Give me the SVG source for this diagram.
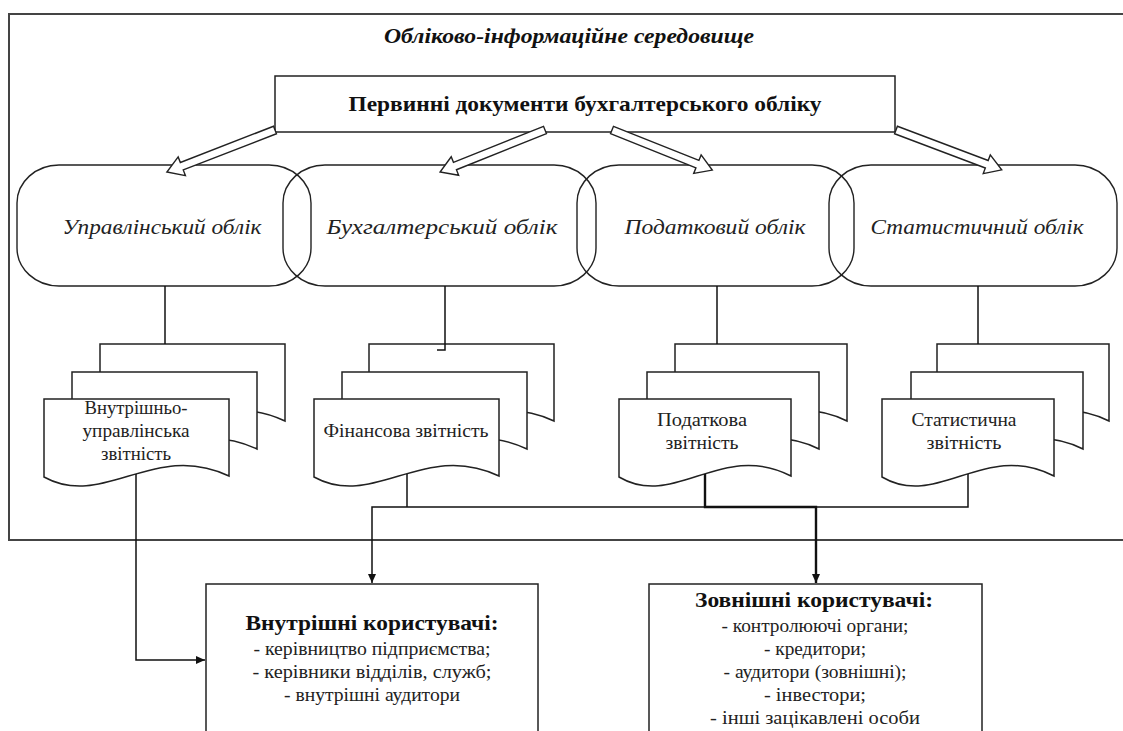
<svg xmlns="http://www.w3.org/2000/svg" width="1123" height="731" viewBox="0 0 1123 731">
<style>
  text { font-family: "Liberation Serif", "Times New Roman", serif; fill: #111; }
  .title { font-size: 20px; font-weight: bold; font-style: italic; }
  .hdr { font-size: 21px; font-weight: bold; }
  .ov { font-size: 21px; font-style: italic; fill: #222; }
  .doc { font-size: 18px; fill: #222; }
  .bt { font-size: 22px; font-weight: bold; }
  .it { font-size: 18px; fill: #222; }
  .shape { fill: #fff; stroke: #222; stroke-width: 1.5; }
  .oval { fill: none; stroke: #222; stroke-width: 1.4; }
  .barrow { fill: #fff; stroke: #222; stroke-width: 1.4; stroke-linejoin: miter; }
  .con { fill: none; stroke: #111; stroke-width: 1.5; }
  .bold { stroke-width: 2.4; }
</style>
<defs>
  <path id="docW" d="M0,0 H185 V77 C110,41 60,111 0,78 Z"/>
  <path id="docN" d="M0,0 H172 V77 C102,41 56,111 0,78 Z"/>
  <marker id="ah" markerWidth="10" markerHeight="10" refX="9" refY="5" orient="auto" markerUnits="userSpaceOnUse">
    <path d="M0,1 L9,5 L0,9 Z" fill="#111"/>
  </marker>
</defs>

<!-- outer environment frame -->
<g id="frame">
  <path d="M1125,14 H9 V540 H1125" fill="none" stroke="#444" stroke-width="2"/>
  <text class="title" x="569" y="43" text-anchor="middle" textLength="370" lengthAdjust="spacingAndGlyphs">Обліково-інформаційне середовище</text>
</g>

<g id="primary">
  <rect class="shape" x="275" y="76" width="620" height="56"/>
  <text class="hdr" x="585" y="111" text-anchor="middle" textLength="473" lengthAdjust="spacingAndGlyphs">Первинні документи бухгалтерського обліку</text>
</g>

<g id="ovals">
  <g id="mgmt">
    <rect class="oval" x="17" y="165" width="294" height="121" rx="42" ry="38"/>
    <text class="ov" x="162" y="234" text-anchor="middle" textLength="199" lengthAdjust="spacingAndGlyphs">Управлінський облік</text>
  </g>
  <g id="acct">
    <rect class="oval" x="283" y="165" width="313" height="121" rx="42" ry="38"/>
    <text class="ov" x="442" y="234" text-anchor="middle" style="font-size:22px" textLength="231" lengthAdjust="spacingAndGlyphs">Бухгалтерський облік</text>
  </g>
  <g id="tax">
    <rect class="oval" x="577" y="165" width="277" height="121" rx="42" ry="38"/>
    <text class="ov" x="715" y="234" text-anchor="middle" textLength="181" lengthAdjust="spacingAndGlyphs">Податковий облік</text>
  </g>
  <g id="stat">
    <rect class="oval" x="829" y="165" width="288" height="121" rx="42" ry="38"/>
    <text class="ov" x="977" y="234" text-anchor="middle" textLength="213" lengthAdjust="spacingAndGlyphs">Статистичний облік</text>
  </g>
</g>

<g id="block-arrows">
  <polygon class="barrow" transform="translate(275,130) rotate(158.75)" points="0,-4 100,-4 100,-10 116,0 100,10 100,4 0,4"/>
  <polygon class="barrow" transform="translate(545,130) rotate(158.2)" points="0,-4 97,-4 97,-10 113,0 97,10 97,4 0,4"/>
  <polygon class="barrow" transform="translate(612,130) rotate(21.8)" points="0,-4 92,-4 92,-10 108,0 92,10 92,4 0,4"/>
  <polygon class="barrow" transform="translate(896,130) rotate(20.67)" points="0,-4 97,-4 97,-10 113,0 97,10 97,4 0,4"/>
</g>

<g id="doc-mgmt">
  <use href="#docW" class="shape" x="100" y="344"/>
  <use href="#docW" class="shape" x="72" y="372"/>
  <use href="#docW" class="shape" x="44" y="399"/>
  <text class="doc" x="136" y="414" text-anchor="middle" textLength="103" lengthAdjust="spacingAndGlyphs">Внутрішньо-</text>
  <text class="doc" x="136" y="437" text-anchor="middle" textLength="107" lengthAdjust="spacingAndGlyphs">управлінська</text>
  <text class="doc" x="136" y="460" text-anchor="middle" textLength="70" lengthAdjust="spacingAndGlyphs">звітність</text>
</g>
<g id="doc-fin">
  <use href="#docW" class="shape" x="369" y="344"/>
  <use href="#docW" class="shape" x="342" y="372"/>
  <use href="#docW" class="shape" x="314" y="399"/>
  <text class="doc" x="406" y="437" text-anchor="middle" textLength="165" lengthAdjust="spacingAndGlyphs">Фінансова звітність</text>
</g>
<g id="doc-tax">
  <use href="#docN" class="shape" x="675" y="344"/>
  <use href="#docN" class="shape" x="647" y="372"/>
  <use href="#docN" class="shape" x="619" y="399"/>
  <text class="doc" x="702" y="426" text-anchor="middle" textLength="90" lengthAdjust="spacingAndGlyphs">Податкова</text>
  <text class="doc" x="702" y="449" text-anchor="middle" textLength="73" lengthAdjust="spacingAndGlyphs">звітність</text>
</g>
<g id="doc-stat">
  <use href="#docN" class="shape" x="937" y="344"/>
  <use href="#docN" class="shape" x="911" y="372"/>
  <use href="#docN" class="shape" x="882" y="399"/>
  <text class="doc" x="964" y="426" text-anchor="middle" textLength="105" lengthAdjust="spacingAndGlyphs">Статистична</text>
  <text class="doc" x="964" y="449" text-anchor="middle" textLength="75" lengthAdjust="spacingAndGlyphs">звітність</text>
</g>

<g id="internal">
  <rect class="shape" x="206" y="584" width="332" height="170"/>
  <text class="bt" x="372" y="630" text-anchor="middle" textLength="253" lengthAdjust="spacingAndGlyphs">Внутрішні користувачі:</text>
  <text class="it" x="372" y="655" text-anchor="middle" textLength="237" lengthAdjust="spacingAndGlyphs">- керівництво підприємства;</text>
  <text class="it" x="372" y="678" text-anchor="middle" textLength="239" lengthAdjust="spacingAndGlyphs">- керівники відділів, служб;</text>
  <text class="it" x="372" y="701" text-anchor="middle" textLength="176" lengthAdjust="spacingAndGlyphs">- внутрішні аудитори</text>
</g>
<g id="external">
  <rect class="shape" x="649" y="584" width="333" height="170"/>
  <text class="bt" x="814" y="607" text-anchor="middle" textLength="238" lengthAdjust="spacingAndGlyphs">Зовнішні користувачі:</text>
  <text class="it" x="815" y="632" text-anchor="middle" textLength="187" lengthAdjust="spacingAndGlyphs">- контролюючі органи;</text>
  <text class="it" x="815" y="655" text-anchor="middle" textLength="102" lengthAdjust="spacingAndGlyphs">- кредитори;</text>
  <text class="it" x="815" y="678" text-anchor="middle" textLength="183" lengthAdjust="spacingAndGlyphs">- аудитори (зовнішні);</text>
  <text class="it" x="815" y="701" text-anchor="middle" textLength="102" lengthAdjust="spacingAndGlyphs">- інвестори;</text>
  <text class="it" x="815" y="724" text-anchor="middle" textLength="210" lengthAdjust="spacingAndGlyphs">- інші зацікавлені особи</text>
</g>

<g id="connectors">
  <path class="con" d="M165,286 V344"/>
  <path class="con" d="M445,286 V350 H437"/>
  <path class="con" d="M717,286 V344"/>
  <path class="con" d="M978,286 V344"/>
  <path class="con" d="M136,474 V660 H205" marker-end="url(#ah)"/>
  <path class="con" d="M407,474 V507"/>
  <path class="con" d="M968,474 V507 H372 V583" marker-end="url(#ah)"/>
  <path class="con bold" d="M705,474 V507 H816 V583" marker-end="url(#ah)"/>
</g>
</svg>
